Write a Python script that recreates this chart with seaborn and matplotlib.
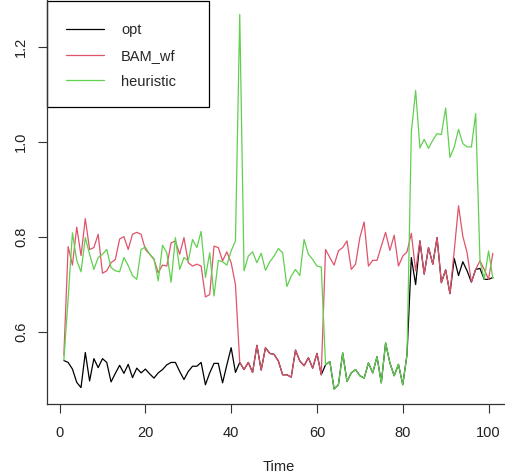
import numpy as np
import pandas as pd
import matplotlib
matplotlib.use("Agg")
import matplotlib.pyplot as plt
import matplotlib.patches as mpatches
import seaborn as sns

time = list(range(1, 102))

opt = [0.539, 0.535, 0.521, 0.493, 0.482, 0.556, 0.496, 0.543, 0.524, 0.543,
       0.535, 0.494, 0.512, 0.529, 0.512, 0.531, 0.503, 0.523, 0.513, 0.521,
       0.511, 0.502, 0.513, 0.520, 0.530, 0.535, 0.535, 0.516, 0.499, 0.516,
       0.527, 0.527, 0.535, 0.488, 0.513, 0.533, 0.533, 0.492, 0.530, 0.566,
       0.514, 0.535, 0.520, 0.535, 0.514, 0.571, 0.519, 0.566, 0.554, 0.552,
       0.538, 0.509, 0.509, 0.504, 0.561, 0.538, 0.528, 0.545, 0.523, 0.554,
       0.509, 0.530, 0.537, 0.479, 0.488, 0.555, 0.495, 0.513, 0.520, 0.507,
       0.502, 0.534, 0.513, 0.547, 0.492, 0.576, 0.534, 0.507, 0.531, 0.488,
       0.552, 0.756, 0.699, 0.791, 0.721, 0.777, 0.742, 0.798, 0.703, 0.730,
       0.680, 0.754, 0.718, 0.747, 0.728, 0.704, 0.731, 0.733, 0.710, 0.710,
       0.714]

bam_wf = [0.550, 0.779, 0.740, 0.820, 0.760, 0.838, 0.773, 0.777, 0.805, 0.723,
          0.728, 0.745, 0.752, 0.795, 0.800, 0.773, 0.805, 0.809, 0.805, 0.773,
          0.763, 0.752, 0.724, 0.740, 0.738, 0.787, 0.791, 0.763, 0.798, 0.745,
          0.738, 0.742, 0.738, 0.673, 0.678, 0.780, 0.777, 0.749, 0.768, 0.745,
          0.699, 0.535, 0.520, 0.535, 0.514, 0.571, 0.519, 0.566, 0.554, 0.552,
          0.538, 0.509, 0.509, 0.504, 0.561, 0.538, 0.528, 0.545, 0.523, 0.554,
          0.509, 0.773, 0.756, 0.740, 0.770, 0.777, 0.791, 0.731, 0.742, 0.798,
          0.831, 0.738, 0.750, 0.750, 0.780, 0.809, 0.771, 0.803, 0.738, 0.759,
          0.768, 0.807, 0.728, 0.791, 0.721, 0.777, 0.742, 0.798, 0.703, 0.730,
          0.680, 0.770, 0.865, 0.801, 0.766, 0.704, 0.731, 0.749, 0.731, 0.710,
          0.765]

heuristic = [0.540, 0.670, 0.808, 0.750, 0.726, 0.798, 0.763, 0.731, 0.756, 0.763,
             0.773, 0.735, 0.728, 0.726, 0.756, 0.739, 0.718, 0.710, 0.773, 0.778,
             0.763, 0.754, 0.707, 0.782, 0.766, 0.704, 0.798, 0.731, 0.756, 0.749,
             0.794, 0.777, 0.811, 0.714, 0.766, 0.675, 0.750, 0.747, 0.740, 0.770,
             0.791, 1.268, 0.728, 0.759, 0.768, 0.745, 0.765, 0.729, 0.747, 0.759,
             0.775, 0.766, 0.695, 0.717, 0.731, 0.718, 0.794, 0.763, 0.752, 0.738,
             0.736, 0.530, 0.537, 0.479, 0.488, 0.555, 0.495, 0.513, 0.520, 0.507,
             0.502, 0.534, 0.513, 0.547, 0.492, 0.576, 0.534, 0.507, 0.531, 0.488,
             0.552, 1.020, 1.108, 0.987, 1.005, 0.986, 1.003, 1.017, 1.015, 1.071,
             0.967, 0.989, 1.026, 0.996, 0.989, 0.989, 1.059, 0.749, 0.710, 0.770,
             0.712]

series_names = ["opt", "BAM_wf", "heuristic"]
colors = {"opt": "black", "BAM_wf": "#DF536B", "heuristic": "#61D04F"}

df = pd.concat([
    pd.DataFrame({"Time": time, "value": vals, "series": name})
    for name, vals in zip(series_names, [opt, bam_wf, heuristic])
])

sns.set_theme(style="ticks")
plt.rcParams["font.family"] = ["Liberation Sans", "DejaVu Sans"]

W, H = 506, 475
fig = plt.figure(figsize=(W / 100, H / 100), dpi=100)
ax = fig.add_axes([46.7 / W, 71 / H, (510 - 46.7) / W, 404.5 / H])

sns.lineplot(data=df, x="Time", y="value", hue="series", hue_order=series_names,
             palette=colors, linewidth=0.9, ax=ax, legend=False)

# R-style axis ranges (4% padding)
ymin, ymax = min(opt + bam_wf + heuristic), max(opt + bam_wf + heuristic)
pad = (ymax - ymin) * 0.04
ax.set_ylim(ymin - pad, ymax + pad)
ax.set_xlim(1 - 4, 101 + 4)

ax.set_xticks([0, 20, 40, 60, 80, 100])
ax.set_yticks([0.6, 0.8, 1.0, 1.2])
ax.set_yticklabels(["0.6", "0.8", "1.0", "1.2"], rotation=90, va="center")
ax.tick_params(axis="both", labelsize=10.5, length=6.5, width=0.8, color="#333333",
               labelcolor="#222222")
ax.tick_params(axis="x", pad=9)
ax.tick_params(axis="y", pad=7)
ax.set_xlabel("Time", fontsize=10.5, labelpad=15, color="#222222")
ax.set_ylabel("")

for side in ["left", "bottom"]:
    ax.spines[side].set_color("#333333")
    ax.spines[side].set_linewidth(0.9)
for side in ["top", "right"]:
    ax.spines[side].set_visible(False)

# legend entries without frame, box drawn separately (R legend is wider)
handles = [plt.Line2D([], [], color=colors[n], lw=0.9) for n in series_names]
ax.legend(handles, series_names, loc="upper left",
          bbox_to_anchor=(0, 1 - 4 / 404.5), borderaxespad=0, frameon=False,
          fontsize=10.5, handlelength=2.6, handletextpad=1.15,
          labelspacing=0.8, borderpad=1.35)
box = mpatches.Rectangle((46.7 / W, (H - 107.3) / H), (208.7 - 46.7) / W, (107.3 - 1.2) / H,
                         transform=fig.transFigure, fill=True, facecolor="white",
                         edgecolor="black", linewidth=0.9, zorder=2.5)
ax.add_artist(box)
box.set_clip_on(False)

plt.savefig("out.png", dpi=100)
